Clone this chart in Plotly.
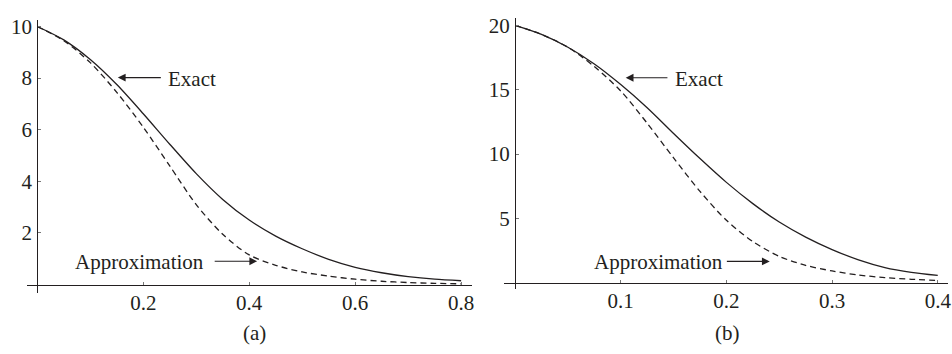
import plotly.graph_objects as go

# ---- data ----
xa = [0, 0.05, 0.1, 0.15, 0.2, 0.25, 0.3, 0.35, 0.4, 0.45, 0.5, 0.55, 0.6, 0.65, 0.7, 0.75, 0.8]
exact_a = [10, 9.48, 8.72, 7.75, 6.62, 5.44, 4.3, 3.3, 2.5, 1.88, 1.39, 0.98, 0.67, 0.46, 0.31, 0.21, 0.15]
approx_a = [10, 9.45, 8.6, 7.45, 6.1, 4.6, 3.1, 1.95, 1.15, 0.75, 0.49, 0.33, 0.21, 0.13, 0.08, 0.05, 0.03]

xb = [0, 0.025, 0.05, 0.075, 0.1, 0.125, 0.15, 0.175, 0.2, 0.225, 0.25, 0.275, 0.3, 0.325, 0.35, 0.375, 0.4]
exact_b = [20, 19.3, 18.3, 17.0, 15.4, 13.6, 11.6, 9.65, 7.8, 6.15, 4.72, 3.55, 2.58, 1.78, 1.18, 0.81, 0.57]
approx_b = [20, 19.3, 18.3, 16.8, 14.9, 12.4, 9.7, 7.1, 4.85, 3.2, 2.05, 1.35, 0.92, 0.6, 0.4, 0.27, 0.18]

xticks_a = [0.2, 0.4, 0.6, 0.8]
yticks_a = [2, 4, 6, 8, 10]
xticks_b = [0.1, 0.2, 0.3, 0.4]
yticks_b = [5, 10, 15, 20]

W, H = 952, 354
FONT = "Liberation Serif, Times New Roman, serif"
INK = "#231f20"
FS = 21

# plot areas (pixels) and ranges
xr_a, yr_a = [-0.0196, 0.8196], [-0.32, 10.26]
xr_b, yr_b = [-0.0101, 0.4097], [-0.48, 20.61]
xdom_a = [27 / W, 473 / W]
ydom_a = [(H - 292) / H, (H - 15) / H]
xdom_b = [506 / W, 951 / W]
ydom_b = [(H - 288) / H, (H - 12.7) / H]


def zero_pos(rng, dom):
    return dom[0] + (0 - rng[0]) / (rng[1] - rng[0]) * (dom[1] - dom[0])


fig = go.Figure()
line_solid = dict(color=INK, width=1.3, shape="spline", smoothing=0.8)
line_dash = dict(color=INK, width=1.3, dash="6px,4px", shape="spline", smoothing=0.8)
fig.add_trace(go.Scatter(x=xa, y=exact_a, mode="lines", line=line_solid,
                         xaxis="x", yaxis="y", name="Exact"))
fig.add_trace(go.Scatter(x=xa, y=approx_a, mode="lines", line=line_dash,
                         xaxis="x", yaxis="y", name="Approximation"))
fig.add_trace(go.Scatter(x=xb, y=exact_b, mode="lines", line=line_solid,
                         xaxis="x2", yaxis="y2", name="Exact"))
fig.add_trace(go.Scatter(x=xb, y=approx_b, mode="lines", line=line_dash,
                         xaxis="x2", yaxis="y2", name="Approximation"))

axis_common = dict(showgrid=False, zeroline=False, showline=True, linecolor=INK, linewidth=1.2,
                   ticks="inside", ticklen=3, tickcolor="#777", tickwidth=1,
                   tickfont=dict(family=FONT, size=FS, color=INK), fixedrange=True,
                   ticklabeloverflow="allow")

fig.update_layout(
    width=W, height=H,
    margin=dict(l=0, r=0, t=0, b=0),
    paper_bgcolor="white", plot_bgcolor="white",
    showlegend=False,
    xaxis=dict(axis_common, domain=xdom_a, range=xr_a, tickvals=xticks_a,
               ticktext=[str(v) for v in xticks_a],
               anchor="free", position=zero_pos(yr_a, ydom_a), ticklabelstandoff=-1),
    yaxis=dict(axis_common, domain=ydom_a, range=yr_a, tickvals=yticks_a,
               anchor="free", position=zero_pos(xr_a, xdom_a), ticklabelstandoff=1),
    xaxis2=dict(axis_common, domain=xdom_b, range=xr_b, tickvals=xticks_b,
                ticktext=[str(v) for v in xticks_b],
                anchor="free", position=zero_pos(yr_b, ydom_b), ticklabelstandoff=-1),
    yaxis2=dict(axis_common, domain=ydom_b, range=yr_b, tickvals=yticks_b,
                anchor="free", position=zero_pos(xr_b, xdom_b), ticklabelstandoff=1),
)

lab_font = dict(family=FONT, size=FS, color=INK)


def arrow(xref, yref, tip, tail):
    fig.add_annotation(xref=xref, yref=yref, axref=xref, ayref=yref,
                       x=tip[0], y=tip[1], ax=tail[0], ay=tail[1], text="",
                       showarrow=True, arrowhead=2, arrowsize=1.3, arrowwidth=1.2,
                       arrowcolor=INK, standoff=0, startstandoff=0)


def label(xref, yref, pos, text, anchor):
    fig.add_annotation(xref=xref, yref=yref, x=pos[0], y=pos[1], text=text,
                       showarrow=False, xanchor=anchor, yanchor="middle", font=lab_font)


# panel (a)
arrow("x", "y", (0.152, 8.02), (0.236, 8.02))
label("x", "y", (0.243, 7.95), "Exact", "left")
arrow("x", "y", (0.415, 0.906), (0.332, 0.906))
label("x", "y", (0.319, 0.88), "Approximation", "right")
# panel (b)
arrow("x2", "y2", (0.1047, 15.93), (0.1456, 15.93))
label("x2", "y2", (0.149, 15.85), "Exact", "left")
arrow("x2", "y2", (0.241, 1.66), (0.199, 1.66))
label("x2", "y2", (0.1985, 1.62), "Approximation", "right")

fig.add_annotation(xref="paper", yref="paper", x=255 / W, y=(H - 333) / H, text="(a)",
                   showarrow=False, font=lab_font, xanchor="center", yanchor="middle")
fig.add_annotation(xref="paper", yref="paper", x=730 / W, y=(H - 333) / H, text="(b)",
                   showarrow=False, font=lab_font, xanchor="center", yanchor="middle")

fig.write_html("out.html", config={"displayModeBar": False},
               post_script="document.body.style.margin='0';")
